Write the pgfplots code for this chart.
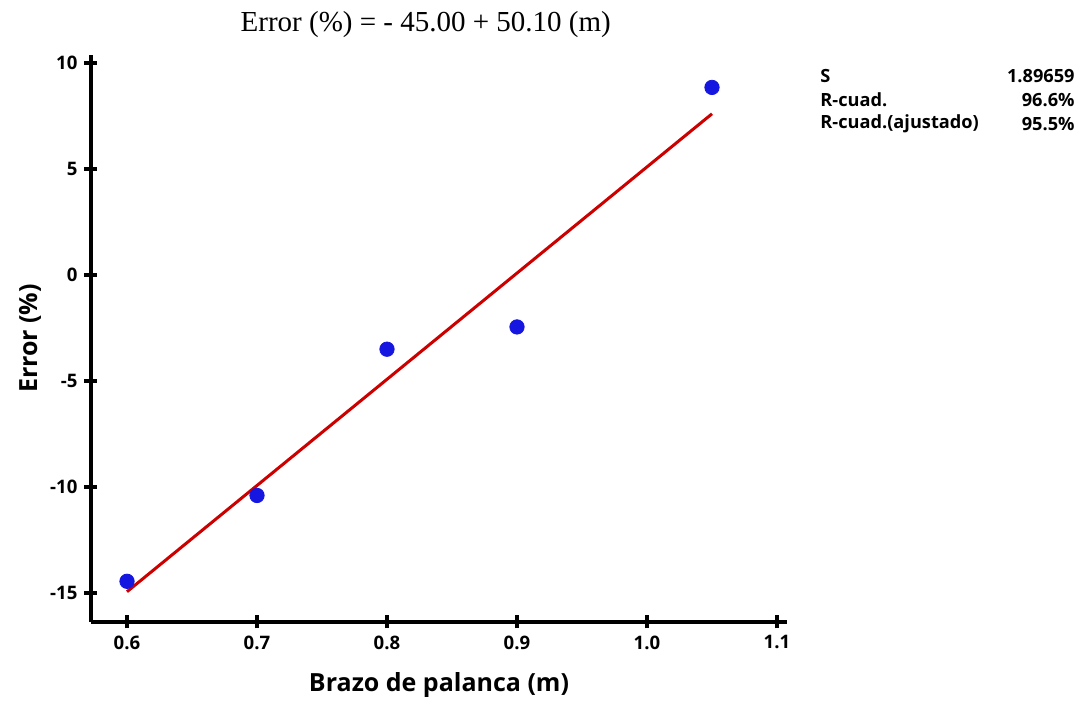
\documentclass[border=0pt]{standalone}
\usepackage{fontspec}
\setmainfont{Liberation Serif}
\newfontfamily\uifont{Open Sans}
\usepackage{pgfplots}
\pgfplotsset{compat=1.18}
\definecolor{ptblue}{RGB}{22,22,225}
\definecolor{fitred}{RGB}{205,0,0}

\begin{document}
\begin{tikzpicture}
\useasboundingbox (0,0) rectangle (541.5pt,351pt);
\begin{axis}[
  at={(45.5pt,40pt)}, anchor=south west,
  scale only axis, width=348pt, height=283.5pt,
  xmin=0.5723, xmax=1.1077,
  ymin=-16.37, ymax=10.38,
  axis lines=left,
  axis line style={line width=1.7pt, -},
  xtick={0.6,0.7,0.8,0.9,1.0,1.1},
  ytick={-15,-10,-5,0,5,10},
  major tick length=6.5pt, tick align=center,
  tick style={line width=1.7pt, black},
  xticklabel style={/pgf/number format/fixed, /pgf/number format/fixed zerofill, /pgf/number format/precision=1},
  /pgf/number format/assume math mode=true,
  ticklabel style={font=\uifont\bfseries\fontsize{9.3}{10}\selectfont},
  xlabel={Brazo de palanca (m)},
  ylabel={Error (\%)},
  label style={font=\uifont\bfseries\fontsize{12.5}{14}\selectfont},
  xlabel style={at={(axis description cs:0.5,-0.111)}, anchor=center},
  ylabel style={at={(axis description cs:-0.0877,0.5)}, anchor=center, rotate=0},
  title={Error (\%) = - 45.00 + 50.10 (m)},
  title style={at={(axis description cs:0.481,1)}, anchor=center, yshift=9pt, font=\fontsize{14.5}{16}\selectfont},
  clip=false,
]
  % fitted line
  \addplot[color=fitred, line width=1.5pt] coordinates {(0.6,-14.94)(1.05,7.605)};
  % observations
  \addplot[only marks, mark=*, mark size=3.6pt, color=ptblue]
    coordinates {(0.6,-14.45)(0.7,-10.4)(0.8,-3.5)(0.9,-2.45)(1.05,8.85)};
\end{axis}
\begin{scope}[every node/.style={font=\uifont\bfseries\fontsize{9.1}{10}\selectfont, inner sep=0pt}]
  \node[anchor=west] at (410pt,313pt) {S};
  \node[anchor=east] at (537.5pt,313pt) {1.89659};
  \node[anchor=west] at (410pt,301pt) {R-cuad.};
  \node[anchor=east] at (537.5pt,301pt) {96.6\%};
  \node[anchor=west] at (410pt,289pt) {R-cuad.(ajustado)};
  \node[anchor=east] at (537.5pt,289pt) {95.5\%};
\end{scope}
\end{tikzpicture}
\end{document}
